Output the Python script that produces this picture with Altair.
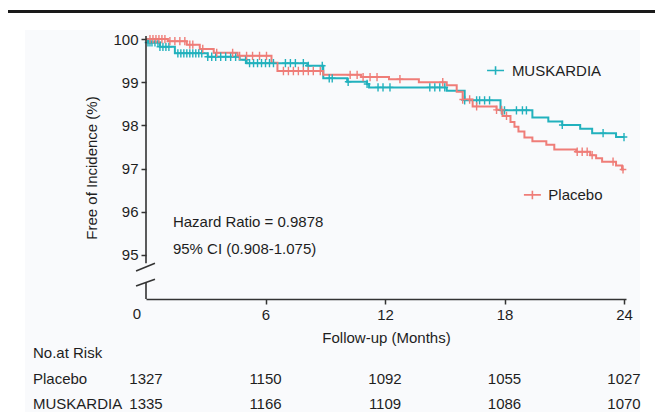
import altair as alt
import pandas as pd
import numpy as np

# Kaplan-Meier step curves: time (months) and % free of incidence
musk_t = [0, 0.1, 0.7, 1.45, 3.1, 4.7, 5.05, 8.1, 8.9, 10.1, 11.1, 11.2, 15.1, 16.0, 17.8, 19.4, 20.2, 20.9, 21.8, 22.4, 23.6, 24.0]
musk_v = [100.0, 99.92, 99.82, 99.67, 99.59, 99.52, 99.44, 99.38, 99.09, 99.01, 98.96, 98.88, 98.80, 98.58, 98.35, 98.18, 98.09, 98.01, 97.92, 97.82, 97.73, 97.73]

plac_t = [0, 1.1, 2.05, 2.7, 3.4, 4.6, 6.3, 6.6, 8.9, 10.8, 12.2, 13.7, 15.1, 15.6, 15.9, 16.4, 17.6, 17.9, 18.3, 18.5, 18.7, 19.0, 19.4, 20.1, 20.5, 21.6, 22.3, 22.6, 22.9, 23.6, 23.9, 24.0]
plac_v = [100.0, 99.95, 99.87, 99.77, 99.68, 99.61, 99.45, 99.26, 99.17, 99.12, 99.07, 99.00, 98.93, 98.78, 98.60, 98.44, 98.36, 98.22, 98.08, 97.97, 97.86, 97.72, 97.63, 97.55, 97.44, 97.39, 97.31, 97.24, 97.16, 97.07, 96.98, 96.98]

# censoring times (months)
musk_c = [0.1, 0.2, 0.3, 0.45, 0.6, 0.7, 0.85, 1.0, 1.15, 1.6, 1.75, 1.9, 2.05, 2.2, 2.35, 2.5, 2.65, 2.8,
          3.1, 3.3, 3.5, 3.75, 4.0, 4.25, 4.5, 5.0, 5.2, 5.4, 5.6, 5.8, 6.0, 6.2, 6.4, 7.0, 7.25, 7.5, 7.9,
          8.15, 8.85, 9.2, 9.35, 10.15, 11.1, 11.65, 11.9, 12.25, 14.25, 14.5, 14.75, 15.0, 16.0, 16.6,
          16.75, 17.0, 17.25, 17.85, 18.0, 18.6, 18.9, 19.1, 20.9, 22.95, 24.0]
plac_c = [0.2, 0.35, 0.5, 0.65, 0.8, 0.95, 1.2, 1.45, 1.7, 1.95, 2.2, 2.35, 2.85, 3.55, 4.35, 4.7, 5.05,
          5.35, 5.7, 6.05, 6.9, 7.15, 7.4, 7.65, 7.9, 8.15, 8.4, 8.75, 10.25, 10.6, 10.9, 11.25, 11.6,
          12.75, 14.9, 15.9, 16.25, 16.6, 17.6, 17.85, 18.1, 21.65, 21.9, 22.15, 22.4, 23.45, 23.95]

# number at risk
risk_months = [0, 6, 12, 18, 24]
risk_placebo = [1327, 1150, 1092, 1055, 1027]
risk_musk = [1335, 1166, 1109, 1086, 1070]

TEAL = "#22b1bd"
RED = "#ef7d78"
INK = "#1e1e1e"
FONT = "Liberation Sans"

def step_value(ts, vs, c):
    i = int(np.searchsorted(np.array(ts), c, side="right")) - 1
    return vs[max(i, 0)]

curves = pd.DataFrame(
    [{"t": t, "v": v, "g": "MUSKARDIA"} for t, v in zip(musk_t, musk_v)]
    + [{"t": t, "v": v, "g": "Placebo"} for t, v in zip(plac_t, plac_v)]
)
cens = pd.DataFrame(
    [{"t": c, "v": step_value(musk_t, musk_v, c), "g": "MUSKARDIA"} for c in musk_c]
    + [{"t": c, "v": step_value(plac_t, plac_v, c), "g": "Placebo"} for c in plac_c]
)

xs = alt.Scale(domain=[0, 24.1], nice=False, zero=False)
ys = alt.Scale(domain=[93.98, 100.07], nice=False, zero=False)
color = alt.Scale(domain=["MUSKARDIA", "Placebo"], range=[TEAL, RED])

X = alt.X("t:Q", scale=xs, axis=alt.Axis(
    values=[6, 12, 18, 24], title="Follow-up (Months)", grid=False, domain=True, zindex=1,
    domainColor="#333", domainWidth=1.6, tickColor="#333", tickWidth=1.5, tickSize=5,
    labelPadding=3, titlePadding=8, labelFont=FONT, titleFont=FONT, labelFontSize=15,
    titleFontSize=15, titleFontWeight="normal", labelColor=INK, titleColor=INK))
Y = alt.Y("v:Q", scale=ys, axis=alt.Axis(
    values=[95, 96, 97, 98, 99, 100], title="Free of Incidence (%)", grid=False, domain=False,
    zindex=1, tickColor="#333", tickWidth=1.5, tickSize=5, labelPadding=3, titlePadding=13,
    labelFont=FONT, titleFont=FONT, labelFontSize=15, titleFontSize=15,
    titleFontWeight="normal", labelColor=INK, titleColor=INK))

one = pd.DataFrame({"a": [0]})

base_bg = alt.Chart(one).mark_rect(color="#f9fafc").encode(
    x=alt.value(-121), x2=alt.value(494), y=alt.value(-6), y2=alt.value(376))

top_line = alt.Chart(one).mark_rule(color="#1a1a1a", strokeWidth=3).encode(
    x=alt.value(-140), x2=alt.value(520), y=alt.value(-24.5))

lines = alt.Chart(curves).mark_line(interpolate="step-after", strokeWidth=2).encode(
    x=X, y=Y, color=alt.Color("g:N", scale=color, legend=None), detail="g:N")

crosses = alt.Chart(cens).mark_point(
    shape="M-1,0L1,0M0,-1.25L0,1.25", size=44, filled=False, strokeWidth=1.4, opacity=1
).encode(x="t:Q", y="v:Q", color=alt.Color("g:N", scale=color, legend=None))

# y axis with break
ax_df = pd.DataFrame({"x1": [0, 0, -0.5, -0.5], "x2": [0, 0, 0.45, 0.45],
                      "y1": [100.07, 94.35, 94.63, 94.28], "y2": [94.81, 93.98, 94.81, 94.44]})
axis_rules = alt.Chart(ax_df).mark_rule(color="#333", strokeWidth=1.6).encode(
    x="x1:Q", x2="x2:Q", y="y1:Q", y2="y2:Q")

zero_lbl = alt.Chart(pd.DataFrame({"t": [0], "s": ["0"]})).mark_text(
    font=FONT, fontSize=15, color=INK, dx=-9, baseline="middle").encode(
    x="t:Q", y=alt.value(278), text="s:N")

hr = alt.Chart(pd.DataFrame({"t": [1.35, 1.35], "v": [95.76, 95.14],
                             "s": ["Hazard Ratio = 0.9878", "95% CI (0.908-1.075)"]})).mark_text(
    font=FONT, fontSize=15, color=INK, align="left", baseline="middle").encode(
    x="t:Q", y="v:Q", text="s:N")

leg_df = pd.DataFrame({"t": [17.55, 19.4], "v": [99.27, 96.39], "g": ["MUSKARDIA", "Placebo"],
                       "tt": [18.37, 20.2]})
leg_sym = alt.Chart(leg_df).mark_point(
    shape="M-2,0L2,0M0,-1L0,1", size=72, filled=False, strokeWidth=1.6, opacity=1).encode(
    x="t:Q", y="v:Q", color=alt.Color("g:N", scale=color, legend=None))
leg_txt = alt.Chart(leg_df).mark_text(
    font=FONT, fontSize=15, color=INK, align="left", baseline="middle").encode(
    x="tt:Q", y="v:Q", text="g:N")

# number-at-risk table
def row_label(s, py):
    return alt.Chart(pd.DataFrame({"s": [s]})).mark_text(
        font=FONT, fontSize=15, color=INK, align="left", baseline="middle").encode(
        x=alt.value(-113), y=alt.value(py), text="s:N")

def row_numbers(vals, py):
    df = pd.DataFrame({"t": risk_months, "n": [str(n) for n in vals]})
    return alt.Chart(df).mark_text(
        font=FONT, fontSize=15, color=INK, align="center", baseline="middle").encode(
        x="t:Q", y=alt.value(py), text="n:N")

chart = alt.layer(
    base_bg, top_line, lines, crosses, axis_rules, zero_lbl, hr, leg_sym, leg_txt,
    row_label("No.at Risk", 317), row_label("Placebo", 343), row_label("MUSKARDIA", 368),
    row_numbers(risk_placebo, 343), row_numbers(risk_musk, 368)
).properties(
    width=480, height=263,
    autosize=alt.AutoSizeParams(type="none"),
    padding={"left": 138, "top": 28, "right": 29, "bottom": 113},
).configure_view(stroke=None).configure(background="white")

chart.save("out.html", embed_options={"renderer": "svg", "actions": False})
